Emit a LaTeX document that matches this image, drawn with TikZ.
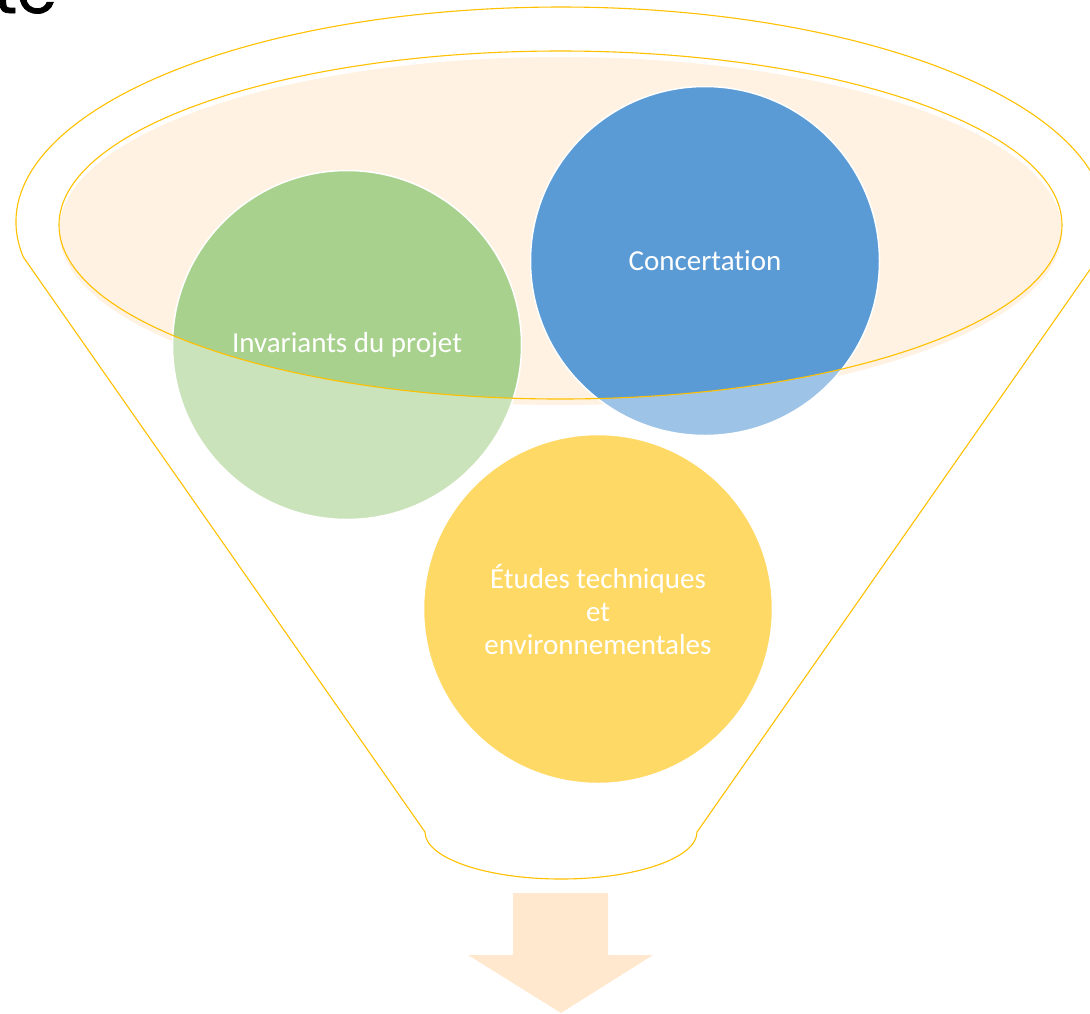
\documentclass[tikz,border=0pt]{standalone}
\usepackage{fontspec}
\setmainfont{Carlito}[Ligatures=NoCommon]
\newfontfamily\titlefont{Poppins}[FakeBold=1.2]
\definecolor{funnelline}{HTML}{FFC000}
\definecolor{peach}{HTML}{FFF2E2}
\definecolor{arrowfill}{HTML}{FFE8CD}
\definecolor{gdark}{HTML}{A9D18E}
\definecolor{glight}{HTML}{CBE3BA}
\definecolor{bdark}{HTML}{5B9BD5}
\definecolor{blight}{HTML}{9DC3E6}
\definecolor{ycol}{HTML}{FFD966}
\begin{document}
\begin{tikzpicture}[x=1pt,y=1pt,
  bubble/.style={circle, minimum size=349pt, inner sep=0pt, draw=white, line width=1.5pt,
    text=white, font=\fontsize{29}{33}\selectfont, align=center},
  funnelline/.style={draw=funnelline, line width=1.1pt}]
\useasboundingbox (0,0) rectangle (1090,-1013);
\coordinate (ec) at (560.5,-225);
\coordinate (ecfill) at (560.5,-231);
\coordinate (oc) at (561,-222);
\coordinate (bc) at (561,-832);
% title fragment
\node[anchor=base east, inner sep=0pt, font=\titlefont\fontsize{64}{64}\selectfont] (ttl) at (57,-13) {te};
% outer funnel outline
\draw[funnelline] (oc) ++(189.4:545 and 215) coordinate (tl)
  arc[start angle=189.4, end angle=-9.4, x radius=545pt, y radius=215pt] coordinate (tr)
  -- (697,-832) coordinate (br)
  arc[start angle=360, end angle=180, x radius=136pt, y radius=47pt] coordinate (bl)
  -- cycle;
% inner ellipse fill
\fill[peach] (ecfill) ellipse[x radius=501.5pt, y radius=174pt];
% circles
\node[bubble, fill=glight, path picture={\fill[gdark] (ec) ellipse[x radius=501.5pt, y radius=174pt];}]
  (inv) at (347,-345) {Invariants du projet};
\node[bubble, fill=blight, path picture={\fill[bdark] (ec) ellipse[x radius=501.5pt, y radius=174pt];}]
  (conc) at (705,-261) {Concertation};
\node[bubble, fill=ycol] (etu) at (598,-609) {Études techniques\\et\\environnementales};
% inner ellipse outline
\draw[funnelline] (ec) ellipse[x radius=501.5pt, y radius=174pt];
% arrow
\fill[arrowfill] (513,-893) -- (608,-893) -- (608,-955) -- (653,-955) -- (561,-1013)
  -- (468,-955) -- (513,-955) -- cycle;
\end{tikzpicture}
\end{document}
